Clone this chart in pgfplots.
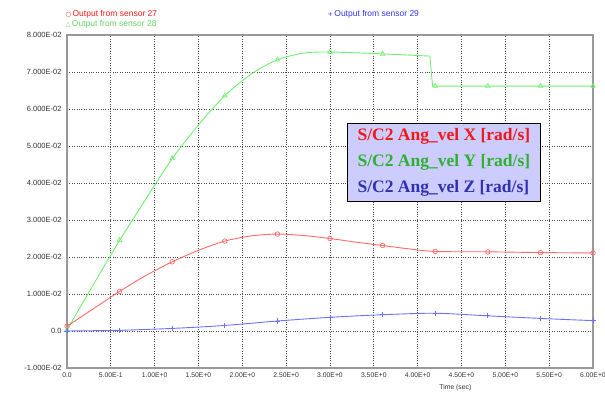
\documentclass[border=0pt]{standalone}
\usepackage{pgfplots}
\pgfplotsset{compat=1.18}
\usepackage{fontspec}
\setmainfont{Liberation Sans}
\newfontfamily\serifb{Liberation Serif}
\newfontfamily\symf{DejaVu Sans}
\definecolor{lr}{HTML}{FF6A6A}
\definecolor{lg}{HTML}{70F070}
\definecolor{lb}{HTML}{7070FF}
\definecolor{tr}{HTML}{F01818}
\definecolor{tg}{HTML}{30B030}
\definecolor{tb}{HTML}{3030B0}
\definecolor{boxf}{HTML}{CCCCFF}
\begin{document}
\begin{tikzpicture}[x=1pt,y=1pt]
\path[use as bounding box] (0,0) rectangle (605,394);
\begin{axis}[at={(67pt,26pt)}, anchor=south west, scale only axis,
  width=526pt, height=333pt,
  xmin=0, xmax=6, ymin=-0.01, ymax=0.08,
  scaled y ticks=false, scaled x ticks=false,
  xtick={0,0.5,1,1.5,2,2.5,3,3.5,4,4.5,5,5.5,6},
  xticklabels={0.0,5.00E-1,1.00E+0,1.50E+0,2.00E+0,2.50E+0,3.00E+0,3.50E+0,4.00E+0,4.50E+0,5.00E+0,5.50E+0,6.00E+0},
  ytick={-0.01,0,0.01,0.02,0.03,0.04,0.05,0.06,0.07,0.08},
  yticklabels={-1.000E-02,0.0,1.000E-02,2.000E-02,3.000E-02,4.000E-02,5.000E-02,6.000E-02,7.000E-02,8.000E-02},
  grid=major, grid style={dotted, gray!60!black, line width=0.75pt},
  axis line style={gray!80, line width=1.3pt},
  major tick style={draw=none},
  ticklabel style={font=\fontsize{6.8}{7}\selectfont, text=black!80},
  yticklabel style={font=\fontsize{7.5}{8}\selectfont, xshift=-2pt},
  xticklabel style={yshift=-1pt},
  clip=false]
% green curve
\addplot[lg, line width=0.9pt, smooth] coordinates {
(0,0.0003) (0.3,0.0125) (0.6,0.0245) (0.9,0.0357) (1.2,0.0466) (1.5,0.0557) (1.8,0.0636) (2.1,0.0694) (2.4,0.0733) (2.7,0.0751) (3.0,0.0754) (3.6,0.0749) (4.14,0.0743)};
\addplot[lg, line width=0.9pt] coordinates {
(4.14,0.0743) (4.17,0.0662) (4.2,0.0662) (4.8,0.0662) (5.4,0.0662) (6.0,0.0662)};
\addplot[only marks, lg, mark=triangle, mark size=2.6pt, mark options={line width=0.7pt}] coordinates {
(0,0.0003) (0.6,0.0245) (1.2,0.0466) (1.8,0.0636) (2.4,0.0733) (3.0,0.0754) (3.6,0.0749) (4.2,0.0662) (4.8,0.0662) (5.4,0.0662) (6.0,0.0662)};
% red curve
\addplot[lr, line width=0.9pt, smooth] coordinates {
(0,0.0013) (0.3,0.006) (0.6,0.0107) (0.9,0.015) (1.2,0.0187) (1.5,0.0218) (1.8,0.0243) (2.1,0.0257) (2.4,0.0262) (2.7,0.0258) (3.0,0.025) (3.3,0.024) (3.6,0.0231) (3.9,0.0222) (4.2,0.0215) (4.8,0.0214) (5.4,0.0212) (6.0,0.0211)};
\addplot[only marks, lr, mark=o, mark size=2.3pt, mark options={line width=0.7pt}] coordinates {
(0,0.0013) (0.6,0.0107) (1.2,0.0187) (1.8,0.0243) (2.4,0.0262) (3.0,0.025) (3.6,0.0231) (4.2,0.0215) (4.8,0.0214) (5.4,0.0212) (6.0,0.0211)};
% blue curve
\addplot[lb, line width=0.9pt, smooth] coordinates {
(0,0) (0.6,0.0002) (1.2,0.0007) (1.8,0.0015) (2.4,0.0027) (3.0,0.0037) (3.6,0.0044) (4.2,0.0048) (4.8,0.0041) (5.4,0.0034) (6.0,0.0028)};
\addplot[only marks, lb, mark=+, mark size=2.6pt, mark options={line width=0.7pt}] coordinates {
(0,0) (0.6,0.0002) (1.2,0.0007) (1.8,0.0015) (2.4,0.0027) (3.0,0.0037) (3.6,0.0044) (4.2,0.0048) (4.8,0.0041) (5.4,0.0034) (6.0,0.0028)};
\node[font=\fontsize{6.8}{7}\selectfont, text=black!80, anchor=north] at (axis cs:4.43,-0.01) [yshift=-13pt] {Time (sec)};
\node[draw=black, line width=1pt, fill=boxf, anchor=north west, align=left, inner xsep=10pt, inner ysep=5pt,
  font=\serifb\bfseries\fontsize{17.5}{26}\selectfont] at (axis cs:3.195,0.0562) {%
  \textcolor{tr}{S/C2 Ang\_vel X [rad/s]}\\
  \textcolor{tg}{S/C2 Ang\_vel Y [rad/s]}\\
  \textcolor{tb}{S/C2 Ang\_vel Z [rad/s]}};
\end{axis}
\node[anchor=west, font=\fontsize{8.5}{9}\selectfont, text=red!90] at (62,380) {{\symf\fontsize{6.5}{7}\selectfont ○}\,Output from sensor 27};
\node[anchor=west, font=\fontsize{8.5}{9}\selectfont, text=lg!90!black] at (62,369.5) {{\symf\fontsize{6.5}{7}\selectfont △}\,Output from sensor 28};
\node[anchor=west, font=\fontsize{8.5}{9}\selectfont, text=blue!80] at (324,380) {{\symf\fontsize{6.5}{7}\selectfont +}\,Output from sensor 29};
\end{tikzpicture}
\end{document}
